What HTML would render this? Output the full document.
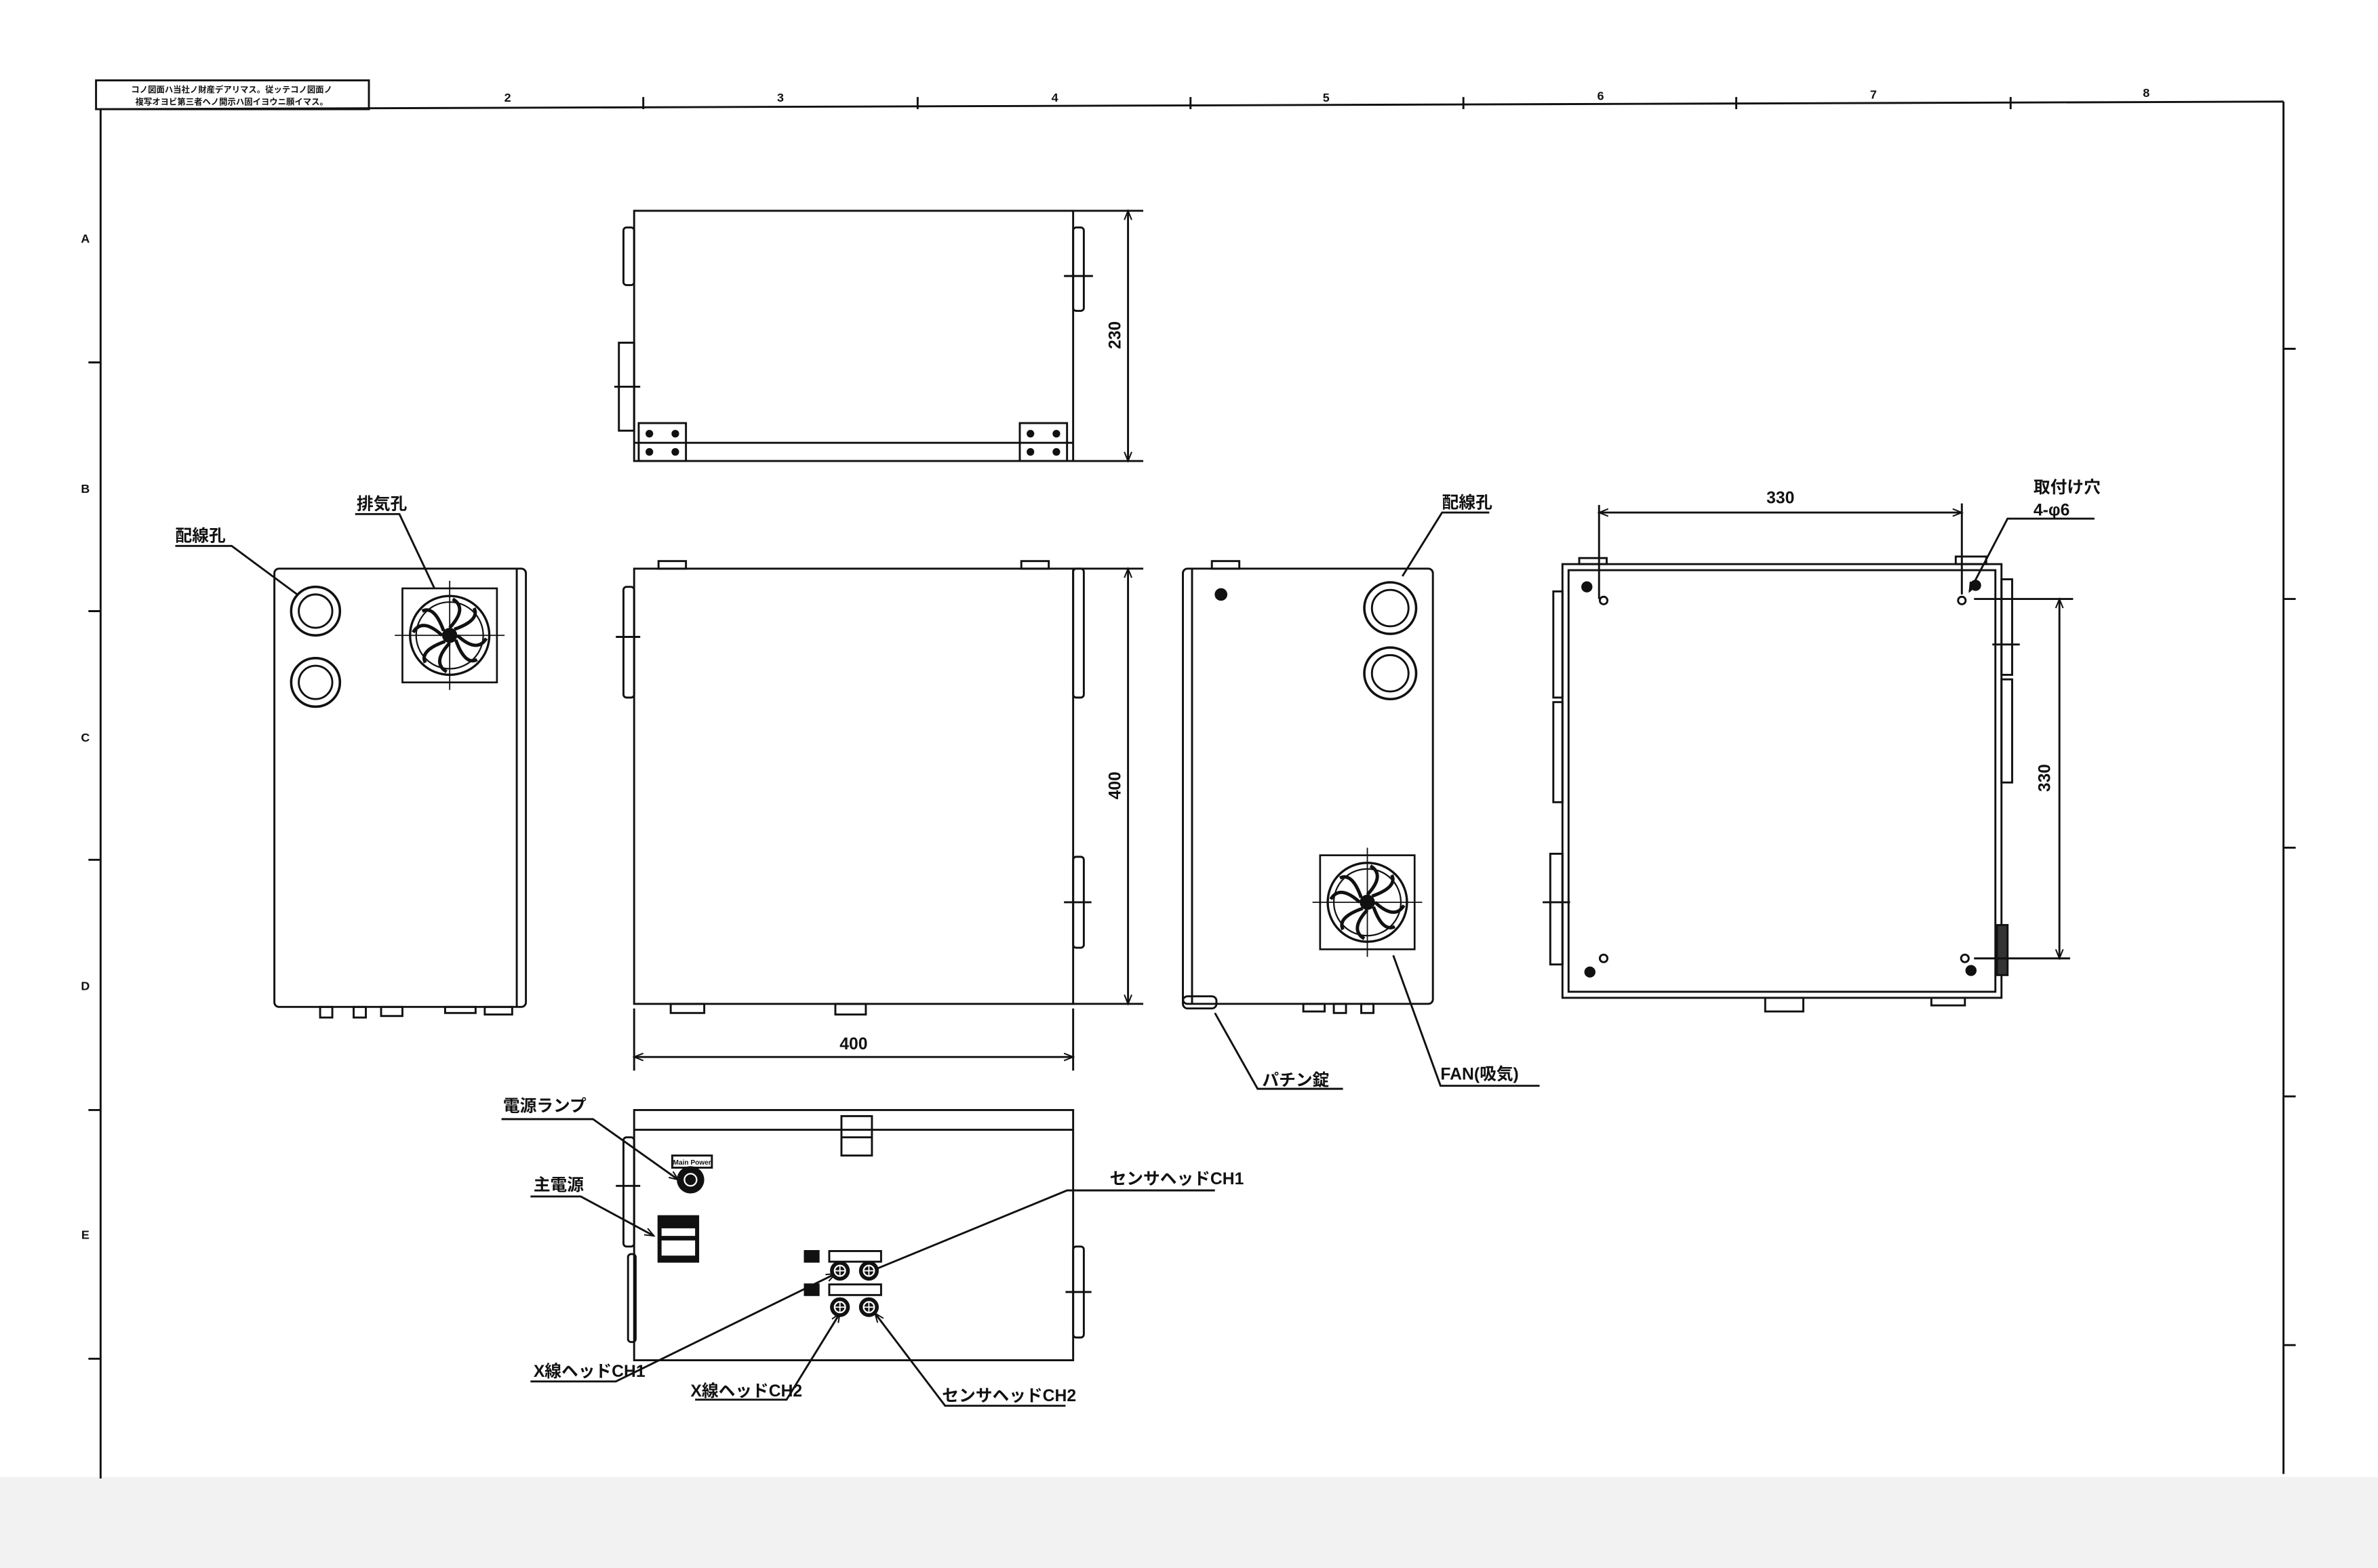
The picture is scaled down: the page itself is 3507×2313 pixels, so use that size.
<!DOCTYPE html>
<html><head><meta charset="utf-8"><style>
html,body{margin:0;padding:0;background:#fff;}
svg{display:block;}
text{font-family:"Liberation Sans","Noto Sans CJK JP",sans-serif;font-weight:bold;fill:#111;}
</style></head><body>
<svg width="3507" height="2313" viewBox="0 0 1560 1034" preserveAspectRatio="none" xmlns="http://www.w3.org/2000/svg">
<defs>
<g id="fan">
<rect x="-31" y="-31" width="62" height="62" fill="none" stroke="#111" stroke-width="1.2"/>
<circle r="26" fill="none" stroke="#111" stroke-width="1.5"/>
<circle r="22" fill="none" stroke="#111" stroke-width="1"/>
<g fill="none" stroke="#111" stroke-width="2.2">
<path d="M0 -5 Q 12 -18 2 -24"/><path d="M5 0 Q 18 12 24 2"/><path d="M0 5 Q -12 18 -2 24"/><path d="M-5 0 Q -18 -12 -24 -2"/>
<path d="M3 -4 Q 20 -10 16 -18"/><path d="M4 3 Q 10 20 18 16"/><path d="M-3 4 Q -20 10 -16 18"/><path d="M-4 -3 Q -10 -20 -18 -16"/>
</g>
<circle r="5" fill="#111"/>
<line x1="-36" y1="0" x2="36" y2="0" stroke="#111" stroke-width="0.8"/>
<line x1="0" y1="-36" x2="0" y2="36" stroke="#111" stroke-width="0.8"/>
</g>
<g id="conn"><circle r="6.5" fill="#111"/><circle r="3.5" fill="none" stroke="#fff" stroke-width="1"/><line x1="-3.5" y1="0" x2="3.5" y2="0" stroke="#fff" stroke-width="0.8"/><line x1="0" y1="-3.5" x2="0" y2="3.5" stroke="#fff" stroke-width="0.8"/></g>
<marker id="ar" viewBox="0 0 10 10" refX="10" refY="5" markerWidth="9" markerHeight="6" orient="auto-start-reverse" markerUnits="userSpaceOnUse"><path d="M0 1 L10 5 L0 9" fill="none" stroke="#111" stroke-width="1.5"/></marker>
</defs>
<rect x="0" y="974" width="1560" height="60" fill="#f2f2f2"/>
<g stroke="#111" fill="none" stroke-width="1.3">
<!-- frame -->
<line x1="66" y1="72" x2="1498" y2="67"/>
<line x1="66" y1="72" x2="66" y2="975"/>
<line x1="1498" y1="67" x2="1498" y2="972"/>
<rect x="63" y="53" width="179" height="19"/>
<path d="M422 64V72M602 64V72M781 64V72M960 64V72M1139 64V72M1319 64V72"/>
<path d="M58 239H66M58 403H66M58 567H66M58 732H66M58 896H66"/>
<path d="M1498 230H1506M1498 395H1506M1498 559H1506M1498 723H1506M1498 887H1506"/>

<!-- top view -->
<rect x="416" y="139" width="288" height="165"/>
<line x1="416" y1="292" x2="704" y2="292"/>
<rect x="409" y="150" width="7" height="38" rx="2"/>
<rect x="406" y="226" width="10" height="58"/><line x1="403" y1="255" x2="420" y2="255"/>
<rect x="704" y="150" width="7" height="55" rx="2"/><line x1="698" y1="182" x2="717" y2="182"/>
<rect x="419" y="279" width="31" height="25"/><rect x="669" y="279" width="31" height="25"/>
<path d="M704 139H750M704 304H750"/>
<line x1="740" y1="139" x2="740" y2="304" marker-start="url(#ar)" marker-end="url(#ar)"/>

<!-- front view -->
<rect x="416" y="375" width="288" height="287"/>
<rect x="409" y="387" width="7" height="73" rx="2"/><line x1="404" y1="420" x2="420" y2="420"/>
<rect x="704" y="375" width="7" height="85" rx="2"/>
<rect x="704" y="565" width="7" height="60" rx="2"/><line x1="698" y1="595" x2="716" y2="595"/>
<rect x="432" y="370" width="18" height="5"/><rect x="670" y="370" width="18" height="5"/>
<rect x="440" y="662" width="22" height="6"/><rect x="548" y="662" width="20" height="7"/>
<path d="M704 375H750M704 662H750"/>
<line x1="740" y1="375" x2="740" y2="662" marker-start="url(#ar)" marker-end="url(#ar)"/>
<path d="M416 665V706M704 665V706"/>
<line x1="416" y1="697" x2="704" y2="697" marker-start="url(#ar)" marker-end="url(#ar)"/>

<!-- left side view -->
<rect x="180" y="375" width="165" height="289" rx="3"/>
<line x1="339" y1="375" x2="339" y2="664"/>
<circle cx="207" cy="403" r="16" stroke-width="1.6"/><circle cx="207" cy="403" r="11"/>
<circle cx="207" cy="450" r="16" stroke-width="1.6"/><circle cx="207" cy="450" r="11"/>
<rect x="210" y="664" width="8" height="7"/><rect x="232" y="664" width="8" height="7"/><rect x="250" y="664" width="14" height="6"/><rect x="292" y="664" width="20" height="4"/><rect x="318" y="664" width="18" height="5"/>
<path d="M115 360H152L195 392"/>
<path d="M233 339H262L285 388"/>

<!-- right side view -->
<rect x="776" y="375" width="164" height="287" rx="3"/>
<line x1="782" y1="375" x2="782" y2="662"/>
<circle cx="801" cy="392" r="3.5" fill="#111"/>
<circle cx="912" cy="401" r="17" stroke-width="1.6"/><circle cx="912" cy="401" r="12"/>
<circle cx="912" cy="444" r="17" stroke-width="1.6"/><circle cx="912" cy="444" r="12"/>
<rect x="795" y="370" width="18" height="5"/>
<rect x="776" y="657" width="22" height="8" rx="3"/><rect x="855" y="662" width="14" height="5"/><rect x="875" y="662" width="8" height="6"/><rect x="893" y="662" width="8" height="6"/>
<path d="M977 338H946L920 380"/>
<path d="M1010 716H945L914 630"/>
<path d="M881 718H825L797 668"/>

<!-- far right view -->
<rect x="1025" y="372" width="288" height="286"/>
<rect x="1029" y="376" width="280" height="278"/>
<rect x="1019" y="390" width="6" height="70"/><rect x="1019" y="463" width="6" height="66"/>
<rect x="1017" y="563" width="8" height="73"/><line x1="1012" y1="595" x2="1030" y2="595"/>
<rect x="1313" y="382" width="7" height="63"/><rect x="1313" y="448" width="7" height="68"/><line x1="1307" y1="425" x2="1325" y2="425"/>
<rect x="1310" y="610" width="7" height="33" fill="#333"/>
<rect x="1036" y="368" width="18" height="4"/><rect x="1283" y="367" width="20" height="5"/>
<rect x="1158" y="658" width="25" height="9"/><rect x="1267" y="658" width="22" height="5"/>
<circle cx="1052" cy="396" r="2.5"/><circle cx="1287" cy="396" r="2.5"/><circle cx="1052" cy="632" r="2.5"/><circle cx="1289" cy="632" r="2.5"/>
<circle cx="1041" cy="387" r="3" fill="#111"/><circle cx="1296" cy="386" r="3" fill="#111"/><circle cx="1043" cy="641" r="3" fill="#111"/><circle cx="1293" cy="640" r="3" fill="#111"/>
<path d="M1049 333V395M1287 332V392"/>
<line x1="1049" y1="338" x2="1287" y2="338" marker-start="url(#ar)" marker-end="url(#ar)"/>
<path d="M1295 395H1360M1295 632H1358"/>
<line x1="1351" y1="395" x2="1351" y2="632" marker-start="url(#ar)" marker-end="url(#ar)"/>
<path d="M1374 342H1317L1292 390" marker-end="url(#ar)"/>

<!-- bottom view -->
<rect x="416" y="732" width="288" height="165"/>
<line x1="416" y1="745" x2="704" y2="745"/>
<rect x="552" y="736" width="20" height="26"/><line x1="552" y1="750" x2="572" y2="750"/>
<rect x="409" y="750" width="7" height="72" rx="2"/><line x1="404" y1="782" x2="420" y2="782"/>
<rect x="412" y="827" width="5" height="58" rx="2"/>
<rect x="704" y="822" width="7" height="60" rx="2"/><line x1="699" y1="852" x2="716" y2="852"/>
<rect x="441" y="762" width="26" height="8"/>
<rect x="432" y="802" width="26" height="30" fill="#111"/>
<rect x="434" y="810" width="22" height="5" fill="#fff" stroke="none"/><rect x="434" y="818" width="22" height="10" fill="#fff" stroke="none"/>
<rect x="528" y="825" width="9" height="7" fill="#111"/><rect x="528" y="847" width="9" height="7" fill="#111"/>
<rect x="544" y="825" width="34" height="7"/><rect x="544" y="847" width="34" height="7"/>
<path d="M329 738H389L445 778" marker-end="url(#ar)"/>
<path d="M348 789H381L429 815" marker-end="url(#ar)"/>
<path d="M797 785H700L567 840" marker-end="url(#ar)"/>
<path d="M348 911H404L548 840" marker-end="url(#ar)"/>
<path d="M456 923H516L551 866" marker-end="url(#ar)"/>
<path d="M699 927H620L574 866" marker-end="url(#ar)"/>
</g>
<circle cx="453" cy="778" r="9" fill="#111"/>
<circle cx="453" cy="778" r="4" fill="none" stroke="#fff" stroke-width="1"/>
<use href="#conn" x="551" y="838"/><use href="#conn" x="570" y="838"/>
<use href="#conn" x="551" y="862"/><use href="#conn" x="570" y="862"/>
<use href="#fan" x="295" y="419"/>
<use href="#fan" x="897" y="595"/>
<g fill="#111">
<circle cx="426" cy="286" r="2.5"/><circle cx="443" cy="286" r="2.5"/><circle cx="426" cy="298" r="2.5"/><circle cx="443" cy="298" r="2.5"/>
<circle cx="676" cy="286" r="2.5"/><circle cx="693" cy="286" r="2.5"/><circle cx="676" cy="298" r="2.5"/><circle cx="693" cy="298" r="2.5"/>
</g>
<!-- texts -->
<text x="152" y="61" font-size="5.5" text-anchor="middle">コノ図面ハ当社ノ財産デアリマス。従ッテコノ図面ノ</text>
<text x="152" y="69" font-size="5.5" text-anchor="middle">複写オヨビ第三者ヘノ開示ハ固イヨウニ願イマス。</text>
<g font-size="8" text-anchor="middle">
<text x="333" y="67">2</text><text x="512" y="67">3</text><text x="692" y="67">4</text><text x="870" y="67">5</text><text x="1050" y="66">6</text><text x="1229" y="65">7</text><text x="1408" y="64">8</text>
<text x="56" y="160">A</text><text x="56" y="325">B</text><text x="56" y="489">C</text><text x="56" y="653">D</text><text x="56" y="817">E</text>
</g>
<g font-size="11">
<text x="735" y="221" text-anchor="middle" transform="rotate(-90 735 221)">230</text>
<text x="735" y="518" text-anchor="middle" transform="rotate(-90 735 518)">400</text>
<text x="560" y="692" text-anchor="middle">400</text>
<text x="1168" y="332" text-anchor="middle">330</text>
<text x="1345" y="513" text-anchor="middle" transform="rotate(-90 1345 513)">330</text>
<text x="115" y="357">配線孔</text>
<text x="234" y="336">排気孔</text>
<text x="946" y="335">配線孔</text>
<text x="945" y="712">FAN(吸気)</text>
<text x="828" y="716">パチン錠</text>
<text x="1334" y="325">取付け穴</text>
<text x="1334" y="340">4-φ6</text>
<text x="330" y="733">電源ランプ</text>
<text x="350" y="785">主電源</text>
<text x="728" y="781">センサヘッドCH1</text>
<text x="350" y="908">X線ヘッドCH1</text>
<text x="453" y="921">X線ヘッドCH2</text>
<text x="618" y="924">センサヘッドCH2</text>
</g>
<text x="454" y="768" font-size="4.5" text-anchor="middle">Main Power</text>
</svg>
</body></html>
